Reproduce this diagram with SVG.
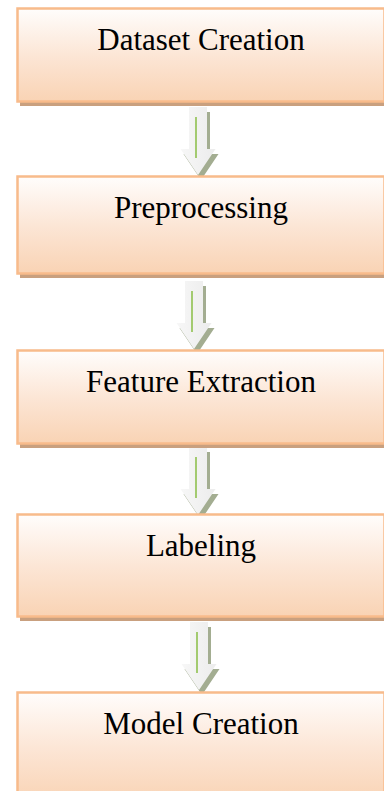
<svg xmlns="http://www.w3.org/2000/svg" xmlns:xlink="http://www.w3.org/1999/xlink" width="384" height="791" viewBox="0 0 384 791">
  <defs>
    <linearGradient id="boxFill" x1="0" y1="0" x2="0" y2="1">
      <stop offset="0" stop-color="#fffdfc"/>
      <stop offset="0.5" stop-color="#fce6d6"/>
      <stop offset="1" stop-color="#f9d3b4"/>
    </linearGradient>
    <linearGradient id="arrowFill" x1="0" y1="0" x2="1" y2="0">
      <stop offset="0" stop-color="#f7f7f7"/>
      <stop offset="1" stop-color="#ececec"/>
    </linearGradient>
    <g id="arrow">
      <path class="arrow-shadow" transform="translate(3,5)" d="M-9,0 H9 V42 H17.5 L0,68 L-17.5,42 H-9 Z"/>
      <path class="arrow-body" d="M-9,0 H9 V42 H17.5 L0,68 L-17.5,42 H-9 Z"/>
      <line class="arrow-line" x1="-2" y1="10" x2="-2" y2="51"/>
    </g>
  </defs>
  <style>
    .box { fill: url(#boxFill); stroke: #f8bb8b; stroke-width: 2.5; }
    .shadow { fill: #c9a07f; }
    .label { font-family: "Liberation Serif", "Times New Roman", serif; font-size: 31px; fill: #000; text-anchor: middle; }
    .arrow-shadow { fill: #a3ad91; }
    .arrow-body { fill: url(#arrowFill); }
    .arrow-line { stroke: #8fc04f; stroke-width: 1.6; }
  </style>
  <rect width="384" height="791" fill="#ffffff"/>

  <g id="connectors">
    <use xlink:href="#arrow" href="#arrow" transform="translate(198,107)"/>
    <use xlink:href="#arrow" href="#arrow" transform="translate(194,281)"/>
    <use xlink:href="#arrow" href="#arrow" transform="translate(198,447)"/>
    <use xlink:href="#arrow" href="#arrow" transform="translate(199,622)"/>
  </g>

  <g id="dataset-creation">
    <rect class="shadow" x="20" y="13" width="370" height="93"/>
    <rect class="box" x="17.5" y="8.5" width="367" height="93"/>
    <text class="label" x="201" y="50">Dataset Creation</text>
  </g>

  <g id="preprocessing">
    <rect class="shadow" x="20" y="181" width="370" height="97"/>
    <rect class="box" x="17.5" y="176.5" width="367" height="97"/>
    <text class="label" x="201" y="218">Preprocessing</text>
  </g>

  <g id="feature-extraction">
    <rect class="shadow" x="20" y="355" width="370" height="93"/>
    <rect class="box" x="17.5" y="350.5" width="367" height="93"/>
    <text class="label" x="201" y="392">Feature Extraction</text>
  </g>

  <g id="labeling">
    <rect class="shadow" x="20" y="519" width="370" height="102"/>
    <rect class="box" x="17.5" y="514.5" width="367" height="102"/>
    <text class="label" x="201" y="556">Labeling</text>
  </g>

  <g id="model-creation">
    <rect class="shadow" x="20" y="697" width="370" height="110"/>
    <rect class="box" x="17.5" y="692.5" width="367" height="110"/>
    <text class="label" x="201" y="734">Model Creation</text>
  </g>
</svg>
